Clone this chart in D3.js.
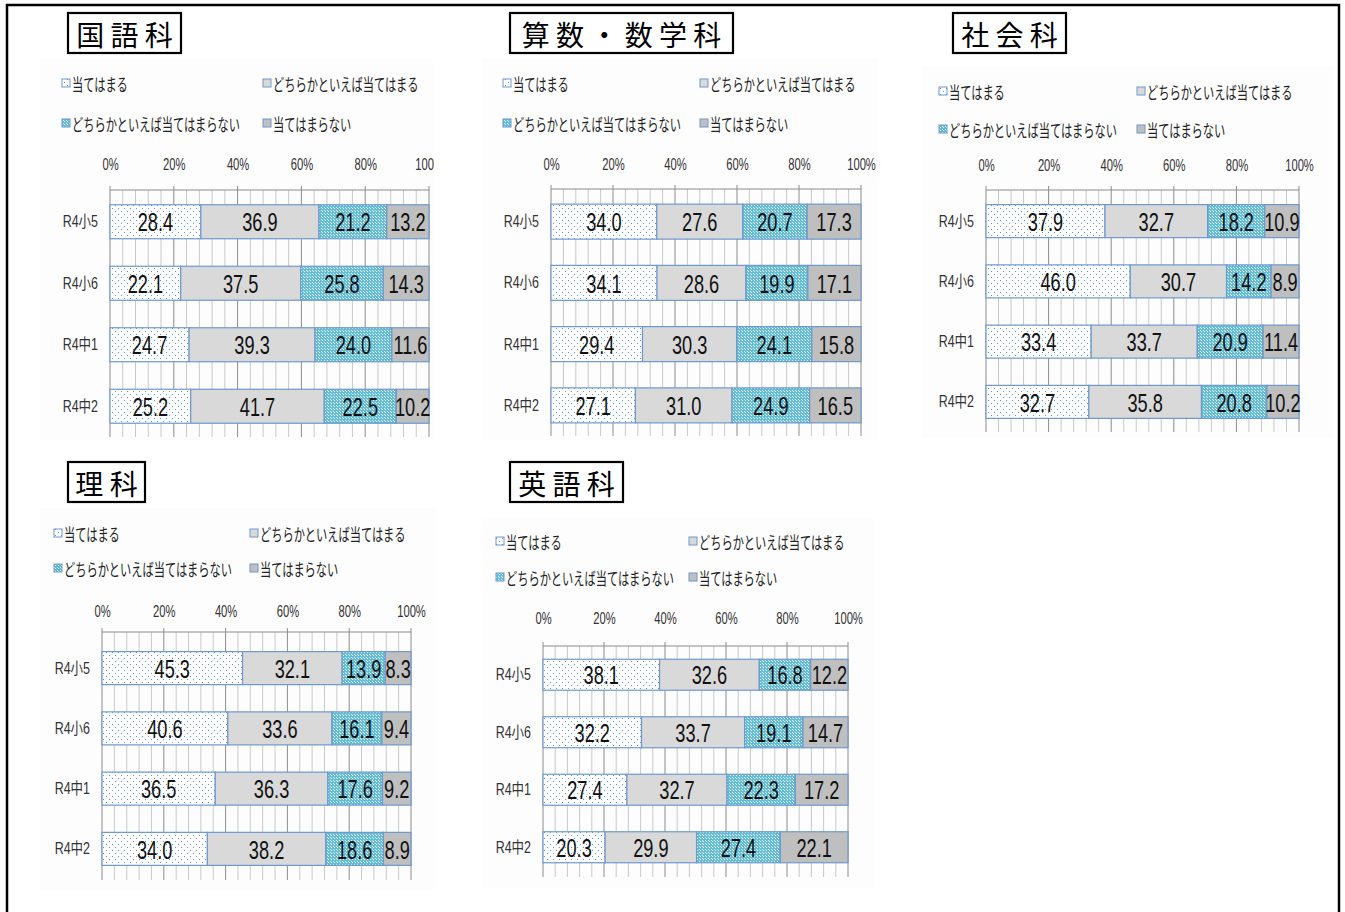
<!DOCTYPE html>
<html><head><meta charset="utf-8">
<script src="https://cdn.jsdelivr.net/npm/d3@7"></script>
<style>
html,body{margin:0;padding:0;background:#fff;}
svg{display:block;}
</style></head>
<body>
<svg id="c" width="1345" height="912"></svg>
<script>
// ---------- data ----------
const categories = ["R4小5", "R4小6", "R4中1", "R4中2"];
const seriesNames = ["当てはまる", "どちらかといえば当てはまる", "どちらかといえば当てはまらない", "当てはまらない"];
const tickValues = [0, 20, 40, 60, 80, 100];
const tickLabels = ["0%", "20%", "40%", "60%", "80%", "100%"];
const subjectTitles = ["国 語 科", "算 数 ・ 数 学 科", "社 会 科", "理 科", "英 語 科"];

const kokugo  = [[28.4, 36.9, 21.2, 13.2], [22.1, 37.5, 25.8, 14.3], [24.7, 39.3, 24.0, 11.6], [25.2, 41.7, 22.5, 10.2]];
const sansu   = [[34.0, 27.6, 20.7, 17.3], [34.1, 28.6, 19.9, 17.1], [29.4, 30.3, 24.1, 15.8], [27.1, 31.0, 24.9, 16.5]];
const shakai  = [[37.9, 32.7, 18.2, 10.9], [46.0, 30.7, 14.2, 8.9], [33.4, 33.7, 20.9, 11.4], [32.7, 35.8, 20.8, 10.2]];
const rika    = [[45.3, 32.1, 13.9, 8.3], [40.6, 33.6, 16.1, 9.4], [36.5, 36.3, 17.6, 9.2], [34.0, 38.2, 18.6, 8.9]];
const eigo    = [[38.1, 32.6, 16.8, 12.2], [32.2, 33.7, 19.1, 14.7], [27.4, 32.7, 22.3, 17.2], [20.3, 29.9, 27.4, 22.1]];
const subjectValues = [kokugo, sansu, shakai, rika, eigo];

// ---------- layout (positions only) ----------
const layout = [
  {title:[68,13,113,40], area:[40,58,394,382], legRows:[83,123], legCols:[66,267], tickY:164, x0:110, x1:429, axisY:190, band:[191,437], gridBottom:437, barH:34},
  {title:[510,13,223,40], area:[482,58,396,382], legRows:[83,123], legCols:[507,704], tickY:164, x0:551, x1:861, axisY:189, band:[191,436], gridBottom:436, barH:35},
  {title:[953,13,113,40], area:[922,66,412,372], legRows:[91,129], legCols:[943,1141], tickY:165, x0:986, x1:1299, axisY:190, band:[191,432], gridBottom:432, barH:33},
  {title:[68,462,77,40], area:[40,508,396,382], legRows:[533,568], legCols:[58,254], tickY:611, x0:102, x1:411, axisY:632, band:[638,879], gridBottom:880, barH:33},
  {title:[510,462,113,40], area:[482,518,392,370], legRows:[541,577], legCols:[500,693], tickY:618, x0:543, x1:848, axisY:646, band:[646,876], gridBottom:877, barH:31}
];

const svg = d3.select("#c");
const defs = svg.append("defs");

// patterns
const pDots = defs.append("pattern").attr("id","pDots").attr("patternUnits","userSpaceOnUse").attr("width",6).attr("height",6);
pDots.append("rect").attr("width",6).attr("height",6).attr("fill","#ffffff");
pDots.append("rect").attr("x",1).attr("y",1).attr("width",1).attr("height",1).attr("fill","#5b98d6");
pDots.append("rect").attr("x",4).attr("y",4).attr("width",1).attr("height",1).attr("fill","#5b98d6");

const pCheck = defs.append("pattern").attr("id","pCheck").attr("patternUnits","userSpaceOnUse").attr("width",3).attr("height",3);
pCheck.append("rect").attr("width",3).attr("height",3).attr("fill","#62bdd7");
pCheck.append("rect").attr("x",1).attr("y",1).attr("width",1).attr("height",1).attr("fill","#ffffff");
pCheck.append("rect").attr("x",0).attr("y",0).attr("width",1).attr("height",1).attr("fill","#d8eef5");

const fills = ["url(#pDots)", "#d9d9d9", "url(#pCheck)", "#bfbfbf"];
const barStroke = "#6e98cf";

const LATIN = "'Liberation Sans','Arial',sans-serif";
const JPFONT = "'Noto Sans CJK JP','Noto Sans CJK SC',sans-serif";

// outer frame
svg.append("rect").attr("x",7).attr("y",5).attr("width",1332).attr("height",930)
  .attr("fill","none").attr("stroke","#000").attr("stroke-width",2.5);

// narrow text helper
function narrowText(parent, x, y, str, opts) {
  const t = parent.append("g").attr("transform", `translate(${x},${y}) scale(${opts.sx},1)`)
    .append("text").attr("x", 0).attr("y", 0)
    .attr("text-anchor", opts.anchor || "start").attr("dominant-baseline", "central")
    .attr("font-family", opts.font).attr("font-size", opts.size).attr("fill", opts.fill || "#222")
    .text(str);
  return t;
}

subjectValues.forEach((vals, pi) => {
  const L = layout[pi];
  const g = svg.append("g");

  const clipId = "clip" + pi;
  defs.append("clipPath").attr("id", clipId).append("rect")
    .attr("x", L.area[0]).attr("y", L.area[1]).attr("width", L.area[2]).attr("height", L.area[3]);
  const cg = g.append("g").attr("clip-path", `url(#${clipId})`);
  cg.append("rect").attr("x", L.area[0]).attr("y", L.area[1]).attr("width", L.area[2]).attr("height", L.area[3])
    .attr("fill","#fdfdfd");

  // title box
  const [tx, ty, tw, th] = L.title;
  g.append("rect").attr("x", tx).attr("y", ty).attr("width", tw).attr("height", th)
    .attr("fill","#fff").attr("stroke","#000").attr("stroke-width",2.2);
  g.append("text").attr("x", tx + tw/2).attr("y", ty + th/2 + 1)
    .attr("text-anchor","middle").attr("dominant-baseline","central")
    .attr("font-family", JPFONT).attr("font-size", 28).attr("fill","#000")
    .text(subjectTitles[pi]);

  // legend
  seriesNames.forEach((name, si) => {
    const lx = L.legCols[si % 2], ly = L.legRows[Math.floor(si / 2)];
    cg.append("rect").attr("x", lx - 4).attr("y", ly - 4).attr("width", 8).attr("height", 8)
      .attr("fill", fills[si]).attr("stroke", barStroke).attr("stroke-width", 1);
    narrowText(cg, lx + 6, ly, name, {sx: 0.66, font: JPFONT, size: 17, fill: "#222"});
  });

  // scales
  const x = d3.scaleLinear().domain([0, 1]).range([L.x0, L.x1]);
  const y = d3.scaleBand().domain(categories).range(L.band);
  const step = y.step();
  y.paddingInner(1 - L.barH / step).paddingOuter((1 - L.barH / step) / 2);

  // grid: minor every 4%, major every 20%
  const minor = d3.range(0, 101, 4).filter(v => v % 20 !== 0);
  cg.selectAll(".minor").data(minor).join("line")
    .attr("x1", v => x(v/100)).attr("x2", v => x(v/100))
    .attr("y1", L.axisY).attr("y2", L.gridBottom)
    .attr("stroke", "#c9c9c9").attr("stroke-width", 1);
  cg.selectAll(".major").data(tickValues).join("line")
    .attr("x1", v => x(v/100)).attr("x2", v => x(v/100))
    .attr("y1", L.axisY - 4).attr("y2", L.gridBottom)
    .attr("stroke", "#8c8c8c").attr("stroke-width", 1);
  cg.append("line").attr("x1", x(0)).attr("x2", x(1)).attr("y1", L.axisY).attr("y2", L.axisY)
    .attr("stroke", "#8c8c8c").attr("stroke-width", 1);

  // tick labels via axis
  const axis = d3.axisTop(x).tickValues(tickValues.map(v => v/100))
    .tickFormat((d, i) => tickLabels[i]).tickSize(0).tickPadding(0);
  const ag = cg.append("g").attr("transform", `translate(0,${L.tickY})`).call(axis);
  ag.select(".domain").remove();
  ag.selectAll("text").attr("font-family", LATIN).attr("font-size", 17).attr("fill", "#333")
    .attr("dy", null).attr("y", 0).attr("dominant-baseline", "central")
    .attr("transform", "scale(0.66,1)");

  // category labels
  categories.forEach(c => {
    narrowText(cg, L.x0 - 12, y(c) + y.bandwidth()/2, c,
      {sx: 0.78, font: LATIN + ",'Noto Sans CJK JP'", size: 16, fill: "#333", anchor: "end"});
  });

  // stacked data
  const rows = categories.map((c, ci) => {
    const o = {cat: c};
    vals[ci].forEach((v, si) => o["s" + si] = v);
    return o;
  });
  const keys = seriesNames.map((_, si) => "s" + si);
  const stacked = d3.stack().keys(keys).offset(d3.stackOffsetExpand)(rows);

  stacked.forEach((layer, si) => {
    g.selectAll(null).data(layer).join("rect")
      .attr("x", d => x(d[0])).attr("width", d => x(d[1]) - x(d[0]))
      .attr("y", d => y(d.data.cat)).attr("height", y.bandwidth())
      .attr("fill", fills[si]).attr("stroke", barStroke).attr("stroke-width", 1.2);
  });
  stacked.forEach((layer, si) => {
    layer.forEach(d => {
      narrowText(g, (x(d[0]) + x(d[1])) / 2, y(d.data.cat) + y.bandwidth()/2 + 1,
        d.data["s" + si].toFixed(1),
        {sx: 0.7, font: LATIN, size: 26, fill: "#111", anchor: "middle"});
    });
  });
});
</script>
</body></html>
